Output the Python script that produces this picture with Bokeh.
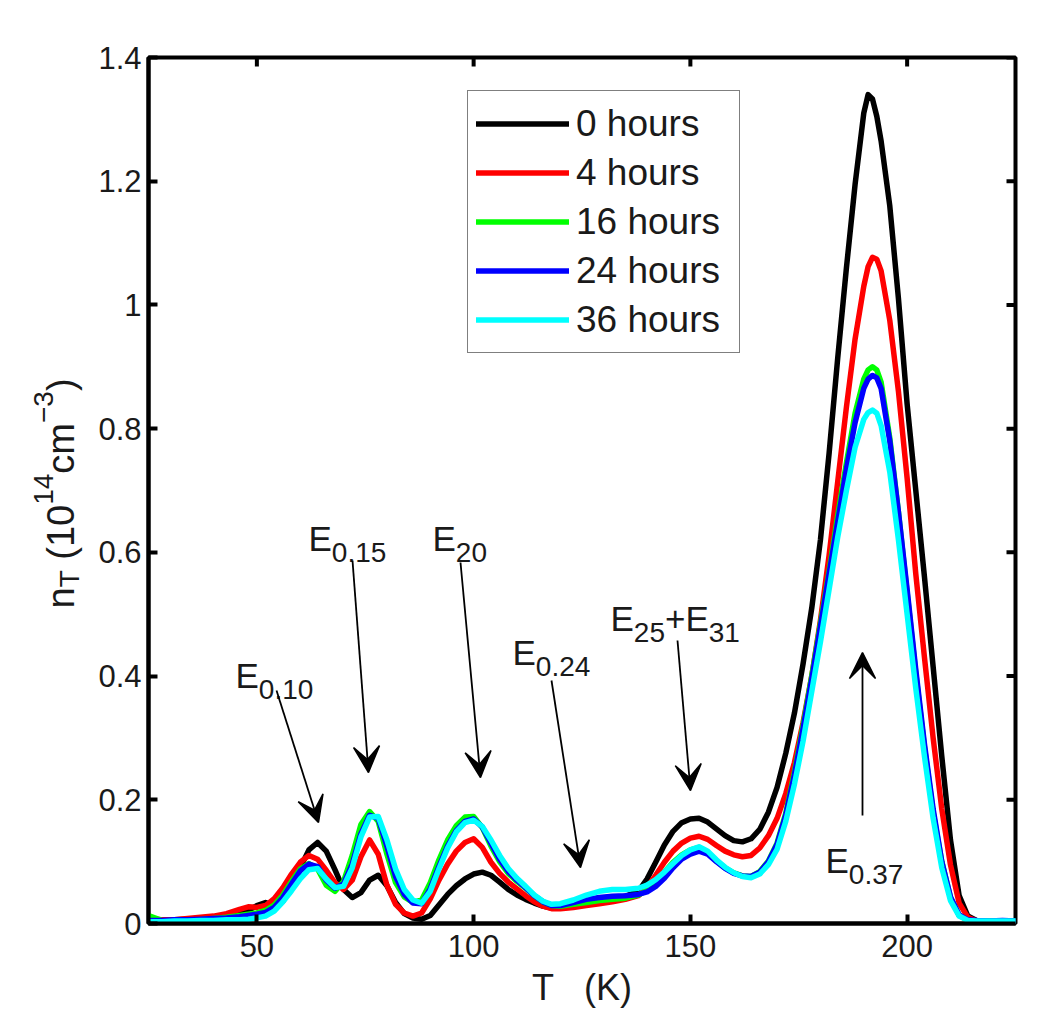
import numpy as np
from bokeh.plotting import figure
from bokeh.layouts import row
from bokeh.models import (Range1d, FixedTicker, NumeralTickFormatter,
                          Legend, LegendItem, Label, Arrow, VeeHead)
from bokeh.embed import file_html
from bokeh.resources import INLINE

# ---------------- data ----------------
T = [25, 28, 31, 34, 37, 40, 43, 46, 48, 50, 52, 54, 56, 58, 60, 62, 64, 66, 68, 70,
     72, 74, 76, 78, 80, 82, 84, 86, 88, 90, 92, 94, 96, 98, 100, 102, 104, 106, 108, 110,
     112, 114, 116, 118, 120, 123, 126, 129, 132, 135, 138, 140, 142, 144, 146, 148, 150,
     152, 154, 156, 158, 160, 162, 164, 166, 168, 170, 172, 174, 176, 178, 180, 182, 184,
     186, 188, 190, 191, 192, 193, 194, 196, 198, 200, 202, 204, 206, 208, 210, 212, 214,
     216, 219, 222, 225]

n_0h = [0.006, 0.006, 0.006, 0.007, 0.008, 0.009, 0.011, 0.015, 0.021, 0.029, 0.034, 0.029,
        0.036, 0.058, 0.090, 0.119, 0.131, 0.117, 0.087, 0.055, 0.042, 0.050, 0.070, 0.078,
        0.061, 0.034, 0.016, 0.009, 0.007, 0.013, 0.030, 0.047, 0.061, 0.072, 0.080, 0.083,
        0.078, 0.067, 0.055, 0.046, 0.039, 0.033, 0.028, 0.025, 0.025, 0.028, 0.033, 0.037,
        0.040, 0.044, 0.052, 0.072, 0.099, 0.127, 0.149, 0.163, 0.169, 0.170, 0.164, 0.153,
        0.142, 0.134, 0.132, 0.137, 0.152, 0.180, 0.220, 0.275, 0.340, 0.420, 0.510, 0.620,
        0.760, 0.915, 1.060, 1.195, 1.310, 1.340, 1.333, 1.305, 1.265, 1.160, 1.010, 0.840,
        0.700, 0.560, 0.415, 0.270, 0.135, 0.045, 0.012, 0.005, 0.004, 0.004, 0.004]

n_4h = [0.008, 0.006, 0.006, 0.008, 0.010, 0.012, 0.016, 0.023, 0.027, 0.026, 0.029, 0.040,
        0.058, 0.080, 0.099, 0.110, 0.104, 0.086, 0.066, 0.055, 0.070, 0.108, 0.135, 0.112,
        0.062, 0.031, 0.017, 0.012, 0.017, 0.040, 0.070, 0.096, 0.117, 0.131, 0.137, 0.123,
        0.099, 0.081, 0.067, 0.056, 0.045, 0.035, 0.028, 0.024, 0.024, 0.026, 0.029, 0.032,
        0.035, 0.039, 0.045, 0.058, 0.078, 0.099, 0.117, 0.130, 0.138, 0.141, 0.136, 0.126,
        0.117, 0.111, 0.108, 0.110, 0.122, 0.142, 0.170, 0.210, 0.260, 0.325, 0.400, 0.490,
        0.595, 0.715, 0.835, 0.945, 1.030, 1.062, 1.077, 1.074, 1.055, 0.975, 0.860, 0.720,
        0.565, 0.430, 0.300, 0.185, 0.095, 0.033, 0.010, 0.004, 0.003, 0.003, 0.003]

n_16h = [0.013, 0.005, 0.004, 0.005, 0.006, 0.008, 0.010, 0.013, 0.015, 0.017, 0.021, 0.030,
         0.046, 0.068, 0.088, 0.097, 0.088, 0.062, 0.052, 0.068, 0.110, 0.160, 0.181, 0.165,
         0.112, 0.066, 0.043, 0.034, 0.038, 0.066, 0.103, 0.135, 0.158, 0.172, 0.173, 0.155,
         0.125, 0.100, 0.081, 0.068, 0.057, 0.045, 0.035, 0.029, 0.028, 0.031, 0.034, 0.037,
         0.039, 0.041, 0.046, 0.054, 0.066, 0.083, 0.099, 0.111, 0.119, 0.123, 0.115, 0.101,
         0.090, 0.082, 0.077, 0.076, 0.084, 0.101, 0.130, 0.178, 0.245, 0.320, 0.400, 0.485,
         0.570, 0.660, 0.745, 0.825, 0.880, 0.895, 0.900, 0.895, 0.875, 0.785, 0.665, 0.535,
         0.405, 0.285, 0.180, 0.100, 0.042, 0.013, 0.005, 0.004, 0.004, 0.004, 0.004]

n_24h = [0.005, 0.005, 0.006, 0.006, 0.007, 0.008, 0.009, 0.011, 0.013, 0.015, 0.018, 0.026,
         0.042, 0.064, 0.085, 0.096, 0.092, 0.070, 0.057, 0.064, 0.096, 0.145, 0.175, 0.170,
         0.125, 0.076, 0.047, 0.033, 0.032, 0.056, 0.092, 0.125, 0.150, 0.165, 0.169, 0.156,
         0.130, 0.104, 0.084, 0.070, 0.058, 0.045, 0.035, 0.029, 0.029, 0.034, 0.039, 0.042,
         0.044, 0.045, 0.047, 0.051, 0.060, 0.073, 0.090, 0.104, 0.112, 0.117, 0.112, 0.100,
         0.089, 0.081, 0.077, 0.076, 0.083, 0.100, 0.128, 0.175, 0.240, 0.315, 0.395, 0.480,
         0.565, 0.650, 0.735, 0.810, 0.865, 0.880, 0.886, 0.882, 0.865, 0.780, 0.665, 0.540,
         0.410, 0.290, 0.185, 0.100, 0.043, 0.014, 0.006, 0.005, 0.004, 0.005, 0.004]

n_36h = [0.003, 0.003, 0.004, 0.004, 0.005, 0.005, 0.006, 0.006, 0.007, 0.009, 0.012, 0.020,
         0.035, 0.053, 0.072, 0.087, 0.089, 0.072, 0.058, 0.060, 0.090, 0.140, 0.172, 0.173,
         0.135, 0.088, 0.055, 0.038, 0.033, 0.052, 0.088, 0.122, 0.148, 0.163, 0.167, 0.157,
         0.135, 0.110, 0.089, 0.073, 0.060, 0.046, 0.036, 0.031, 0.032, 0.038, 0.046, 0.052,
         0.055, 0.055, 0.057, 0.062, 0.071, 0.083, 0.097, 0.110, 0.119, 0.124, 0.117, 0.103,
         0.091, 0.082, 0.076, 0.074, 0.080, 0.095, 0.120, 0.165, 0.225, 0.295, 0.375, 0.455,
         0.540, 0.625, 0.700, 0.770, 0.815, 0.826, 0.830, 0.825, 0.805, 0.730, 0.620, 0.500,
         0.380, 0.270, 0.170, 0.090, 0.037, 0.012, 0.005, 0.004, 0.004, 0.004, 0.004]

series_labels = ["0 hours", "4 hours", "16 hours", "24 hours", "36 hours"]
series_values = [n_0h, n_4h, n_16h, n_24h, n_36h]
series_colors = ["#000000", "#ff0000", "#00ff00", "#0000ff", "#00ffff"]

x_ticks = [50, 100, 150, 200]
y_ticks = [0, 0.2, 0.4, 0.6, 0.8, 1, 1.2, 1.4]

# ---------------- layout ----------------
FONT = "Liberation Sans"
TXT = "#1a1a1a"
H = 1025
LW = 90                     # width of the strip holding the y-axis title
W = 1050 - LW               # main figure width
PL, PR, PT, PB = 148, 1015, 57, 923     # frame edges in page pixels
X0, X1, Y0, Y1 = 25, 225, 0, 1.4


def dx(px):   # page pixel -> data x
    return X0 + (px - PL) * (X1 - X0) / (PR - PL)


def dy(py):   # page pixel -> data y
    return Y0 + (PB - py) * (Y1 - Y0) / (PB - PT)


p = figure(width=W, height=H, x_range=Range1d(X0, X1), y_range=Range1d(Y0, Y1),
           output_backend="svg", toolbar_location=None,
           min_border_left=PL - LW, min_border_right=LW + W - PR,
           min_border_top=PT, min_border_bottom=H - PB,
           background_fill_color="white", border_fill_color="white")
p.grid.visible = False
p.outline_line_color = "black"
p.outline_line_width = 4

p.xaxis.ticker = FixedTicker(ticks=x_ticks)
p.yaxis.ticker = FixedTicker(ticks=y_ticks)
p.yaxis.formatter = NumeralTickFormatter(format="0.[0]")
for ax in p.axis:
    ax.axis_line_width = 4
    ax.axis_line_color = "black"
    ax.major_tick_in = 9
    ax.major_tick_out = 0
    ax.major_tick_line_width = 4
    ax.major_tick_line_color = "black"
    ax.minor_tick_line_color = None
    ax.major_label_text_font = FONT
    ax.major_label_text_font_size = "31px"
    ax.major_label_text_color = TXT
p.xaxis.major_label_standoff = 11
p.yaxis.major_label_standoff = 7
p.xaxis.axis_label = "T\u00a0\u00a0\u00a0(K)"
p.xaxis.axis_label_text_font = FONT
p.xaxis.axis_label_text_font_size = "36px"
p.xaxis.axis_label_text_font_style = "normal"
p.xaxis.axis_label_text_color = TXT
p.xaxis.axis_label_standoff = 7

# inward ticks on the top and right edges (box style)
tlx = 9 * (X1 - X0) / (PR - PL)
tly = 9 * (Y1 - Y0) / (PB - PT)
p.segment(x0=x_ticks, y0=[Y1] * len(x_ticks), x1=x_ticks, y1=[Y1 - tly] * len(x_ticks),
          line_color="black", line_width=4)
p.segment(x0=[X1] * len(y_ticks), y0=y_ticks, x1=[X1 - tlx] * len(y_ticks), y1=y_ticks,
          line_color="black", line_width=4)

renderers = []
for vals, col in zip(series_values, series_colors):
    r = p.line(T, vals, line_color=col, line_width=5.5, line_join="round", line_cap="round")
    renderers.append(r)

legend = Legend(items=[LegendItem(label=l, renderers=[r]) for l, r in zip(series_labels, renderers)],
                location=(319, 570), margin=0, padding=8, spacing=0,
                glyph_width=93, glyph_height=49, label_height=49, label_width=155,
                label_standoff=7, label_text_font=FONT, label_text_font_size="37px",
                label_text_color=TXT, label_text_baseline="middle",
                border_line_color="black", border_line_width=1.5,
                background_fill_color="white", background_fill_alpha=1.0)
p.add_layout(legend)

# ---------------- annotations ----------------
CW = {'0': .556, '1': .556, '2': .556, '3': .556, '4': .556, '5': .556, '7': .556,
      '.': .278, 'E': .667, '+': .584, 'n': .556, 'T': .611, ' ': .278, '(': .333,
      ')': .333, 'c': .5, 'm': .833, '\u2212': .584}


def tw(s, size):
    return sum(CW.get(c, .556) for c in s) * size


MAIN, SMALL = 35, 28


def rich_h(parts, px, py):
    x = px
    for text, kind in parts:
        size = MAIN if kind == "n" else SMALL
        shift = {"n": 0, "sub": 14, "sup": -14}[kind]
        p.add_layout(Label(x=dx(x), y=dy(py + shift), text=text, text_font=FONT,
                           text_font_size=f"{size}px", text_color=TXT,
                           text_align="left", text_baseline="alphabetic"))
        x += tw(text, size)


# peak labels (page pixel positions of the text baseline start)
peak_labels = [
    ([("E", "n"), ("0.10", "sub")], 235, 675),
    ([("E", "n"), ("0.15", "sub")], 308, 538),
    ([("E", "n"), ("20", "sub")], 432, 538),
    ([("E", "n"), ("0.24", "sub")], 512, 652),
    ([("E", "n"), ("25", "sub"), ("+E", "n"), ("31", "sub")], 610, 618),
    ([("E", "n"), ("0.37", "sub")], 825, 860),
]
for parts, px, py in peak_labels:
    rich_h(parts, px, py)

# arrows (page pixels: start -> tip)
arrows = [
    (276, 690, 318, 822),
    (352, 560, 368, 772),
    (460, 562, 480, 777),
    (551, 680, 580, 867),
    (677, 640, 690, 790),
    (862, 815, 862, 652),
]
for sx, sy, ex, ey in arrows:
    p.add_layout(Arrow(x_start=dx(sx), y_start=dy(sy), x_end=dx(ex), y_end=dy(ey),
                       line_color="black", line_width=1.8,
                       end=VeeHead(size=26, fill_color="black", line_color="black",
                                   line_width=1.5)))

# ---------------- y-axis title strip (its frame lines up with the main frame) ----------------
q = figure(width=LW, height=H, x_range=Range1d(0, LW), y_range=Range1d(Y0, Y1),
           output_backend="svg", toolbar_location=None, x_axis_type=None, y_axis_type=None,
           min_border_left=0, min_border_right=0, min_border_top=PT,
           min_border_bottom=H - PB, background_fill_color="white", border_fill_color="white")
q.grid.visible = False
q.outline_line_color = None


def rich_v(parts, px, py, main=38, small=28):
    y = py
    for text, kind in parts:
        if kind == "gap":
            y -= tw(" ", main)
            continue
        size = main if kind == "n" else small
        shift = {"n": 0, "sub": 9, "sup": -17}[kind]
        q.add_layout(Label(x=px + shift, y=dy(y), text=text, text_font=FONT,
                           text_font_size=f"{size}px", text_color=TXT, angle=np.pi / 2,
                           text_align="left", text_baseline="alphabetic"))
        y -= tw(text, size)


rich_v([("n", "n"), ("T", "sub"), ("", "gap"), ("(10", "n"), ("14", "sup"), ("cm", "n"),
        ("\u22123", "sup"), (")", "n")], 60, 608)

layout = row(q, p)
open("out.html", "w").write(file_html(layout, INLINE))
